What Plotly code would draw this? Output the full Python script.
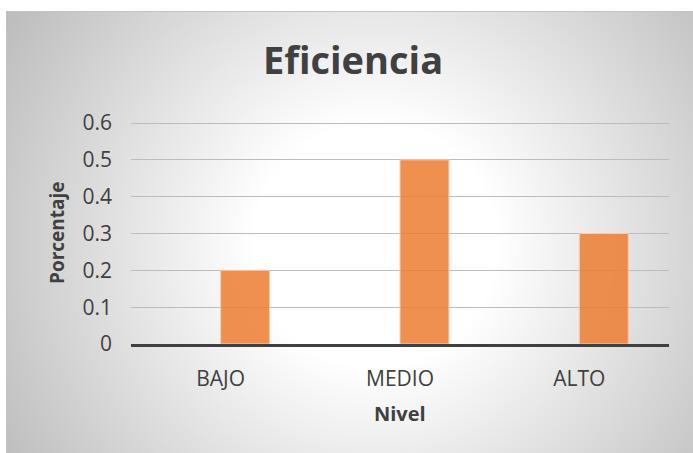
import base64
import plotly.graph_objects as go

# Data
niveles = ["BAJO", "MEDIO", "ALTO"]
porcentajes = [0.2, 0.5, 0.3]
y_ticks = [0, 0.1, 0.2, 0.3, 0.4, 0.5, 0.6]
y_tick_labels = ["0", "0.1", "0.2", "0.3", "0.4", "0.5", "0.6"]

W, H = 693, 453
ML, MR, MT, MB = 131, 24, 120, 109
PW, PH = W - ML - MR, H - MT - MB
# 0.6 sits 221 px above the baseline; a little headroom keeps its gridline drawn
Y_TOP = 0.6 * PH / 221

TEXT = "#404040"
FONT = "Open Sans"

# Chart-area background: framed box with a radial white-to-grey gradient
svg = f"""<svg xmlns='http://www.w3.org/2000/svg' width='{W}' height='{H}' viewBox='0 0 {W} {H}'>
<defs>
<radialGradient id='g' gradientUnits='userSpaceOnUse' cx='375' cy='245' r='430'>
<stop offset='0' stop-color='#ffffff'/>
<stop offset='0.28' stop-color='#ffffff'/>
<stop offset='1' stop-color='#bdbdbd'/>
</radialGradient>
</defs>
<rect x='0' y='0' width='{W}' height='{H}' fill='#ffffff'/>
<rect x='6.5' y='11.5' width='{W + 10}' height='{H + 10}' fill='url(#g)' stroke='#c4c4c4' stroke-width='1'/>
</svg>"""
bg_uri = "data:image/svg+xml;base64," + base64.b64encode(svg.encode()).decode()

fig = go.Figure()
fig.add_trace(go.Bar(
    x=niveles,
    y=porcentajes,
    offset=0,
    width=0.273,
    marker=dict(color="rgba(237,125,49,0.85)",
                line=dict(color="rgba(248,203,173,1)", width=1)),
    hoverinfo="x+y",
))

fig.add_layout_image(dict(
    source=bg_uri,
    xref="paper", yref="paper",
    x=-ML / PW, y=1 + MT / PH,
    sizex=W / PW, sizey=H / PH,
    xanchor="left", yanchor="top",
    sizing="stretch", layer="below",
))

fig.update_layout(
    width=W, height=H,
    margin=dict(l=ML, r=MR, t=MT, b=MB),
    paper_bgcolor="white",
    plot_bgcolor="rgba(0,0,0,0)",
    showlegend=False,
    font=dict(family=FONT, color=TEXT, size=21),
    title=dict(
        text="Eficiencia",
        font=dict(family=FONT, size=38, color=TEXT, weight="bold"),
        x=353 / W, xref="container", xanchor="center",
        y=1 - 61 / H, yref="container", yanchor="middle",
    ),
    xaxis=dict(
        type="category",
        range=[-0.5, 2.5],
        showgrid=False,
        showline=True, linecolor="#404040", linewidth=3,
        ticks="", ticklabelstandoff=14,
        tickfont=dict(family=FONT, size=21, color=TEXT),
    ),
    yaxis=dict(
        range=[0, Y_TOP],
        tickvals=y_ticks, ticktext=y_tick_labels,
        showgrid=True, gridcolor="#bcbcbc", gridwidth=1,
        zeroline=False, showline=False,
        ticks="", ticklabelstandoff=18,
        tickfont=dict(family=FONT, size=21, color=TEXT),
    ),
    annotations=[
        dict(text="Porcentaje", textangle=-90,
             xref="paper", yref="paper",
             x=(57 - ML) / PW, y=(PH + MT - 233) / PH,
             xanchor="center", yanchor="middle", showarrow=False,
             font=dict(family=FONT, size=19, color=TEXT, weight="bold")),
        dict(text="Nivel",
             xref="paper", yref="paper",
             x=0.5, y=(PH + MT - 413) / PH,
             xanchor="center", yanchor="middle", showarrow=False,
             font=dict(family=FONT, size=20, color=TEXT, weight="bold")),
    ],
)

fig.write_html("out.html")
